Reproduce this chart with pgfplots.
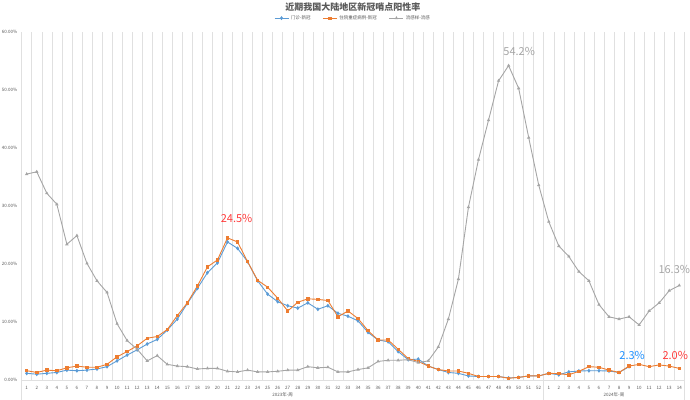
\documentclass[border=0pt]{standalone}
\usepackage{pgfplots}
\pgfplotsset{compat=1.18}
\usepackage{pgfplotstable}
\usepackage{fontspec}
\setmainfont{Noto Sans CJK SC}
\definecolor{cblue}{HTML}{5B9BD5}
\definecolor{corange}{HTML}{ED7D31}
\definecolor{cgray}{HTML}{A5A5A5}
\definecolor{ctext}{HTML}{595959}
\definecolor{cgrid}{HTML}{E0E0E0}
\definecolor{cred}{HTML}{FF3B3B}
\definecolor{cbluelab}{HTML}{1E90FF}

\pgfplotstableread{
x v
0 1.15
1 1.0
2 1.15
3 1.3
4 1.7
5 1.6
6 1.7
7 1.9
8 2.3
9 3.3
10 4.3
11 5.2
12 6.2
13 7.0
14 8.6
15 10.5
16 13.2
17 15.8
18 18.5
19 20.2
20 23.8
21 22.7
22 20.4
23 17.1
24 14.8
25 13.5
26 12.8
27 12.4
28 13.3
29 12.2
30 12.8
31 11.5
32 11.0
33 10.2
34 8.2
35 6.9
36 6.6
37 4.9
38 3.5
39 3.6
40 2.4
41 1.8
42 1.3
43 1.15
44 0.7
45 0.6
46 0.6
47 0.6
48 0.35
49 0.45
50 0.7
51 0.7
52 1.15
53 0.9
54 1.4
55 1.55
56 1.6
57 1.6
58 1.55
59 1.3
60 2.3
}\bluedata

\pgfplotstableread{
x v
0 1.6
1 1.3
2 1.7
3 1.6
4 2.1
5 2.4
6 2.2
7 2.2
8 2.7
9 4.0
10 4.9
11 5.9
12 7.2
13 7.5
14 8.7
15 11.1
16 13.3
17 16.2
18 19.5
19 20.7
20 24.5
21 23.8
22 20.4
23 17.2
24 16.0
25 14.1
26 11.9
27 13.4
28 14.0
29 13.9
30 13.7
31 10.9
32 11.9
33 10.6
34 8.5
35 6.9
36 6.9
37 5.3
38 3.7
39 3.2
40 2.4
41 1.8
42 1.55
43 1.55
44 1.15
45 0.6
46 0.6
47 0.6
48 0.3
49 0.45
50 0.7
51 0.7
52 1.15
53 1.1
54 0.9
55 1.5
56 2.3
57 2.2
58 1.7
59 1.3
60 2.4
61 2.7
62 2.3
63 2.6
64 2.4
65 2.0
}\orangedata

\pgfplotstableread{
x v
0 35.5
1 35.9
2 32.2
3 30.3
4 23.4
5 24.9
6 20.1
7 17.1
8 15.1
9 9.7
10 6.8
11 5.3
12 3.3
13 4.2
14 2.7
15 2.4
16 2.3
17 1.9
18 2.0
19 2.0
20 1.5
21 1.4
22 1.7
23 1.4
24 1.4
25 1.5
26 1.7
27 1.7
28 2.3
29 2.1
30 2.2
31 1.4
32 1.4
33 1.8
34 2.1
35 3.2
36 3.4
37 3.4
38 3.5
39 3.0
40 3.3
41 5.7
42 10.5
43 17.4
44 29.8
45 38.0
46 44.8
47 51.6
48 54.2
49 50.3
50 41.8
51 33.6
52 27.3
53 23.1
54 21.3
55 18.7
56 17.1
57 13.0
58 10.9
59 10.5
60 10.9
61 9.5
62 11.9
63 13.3
64 15.4
65 16.3
}\graydata

\begin{document}
\begin{tikzpicture}
\useasboundingbox (-21.7bp,-20bp) rectangle (668.3bp,380bp);
\begin{axis}[
  at={(0,0)}, anchor=south west,
  scale only axis, width=662.6bp, height=348bp,
  xmin=-0.5, xmax=65.5, ymin=0, ymax=60,
  clip=false,
  axis x line*=bottom, axis y line*=left,
  x axis line style={draw=cgrid,-},
  y axis line style={draw=none},
  xtick={0,...,65},
  xticklabels={1,2,3,4,5,6,7,8,9,10,11,12,13,14,15,16,17,18,19,20,21,22,23,24,25,26,27,28,29,30,31,32,33,34,35,36,37,38,39,40,41,42,43,44,45,46,47,48,49,50,51,52,1,2,3,4,5,6,7,8,9,10,11,12,13,14},
  minor xtick={-0.5,0.5,...,65.5},
  xminorgrids,
  minor grid style={cgrid, line width=0.5bp},
  major tick length=0pt, minor tick length=0pt,
  ytick={0,10,...,60},
  yticklabels={0.00\%,10.00\%,20.00\%,30.00\%,40.00\%,50.00\%,60.00\%},
  tick label style={font=\fontsize{4.5bp}{5bp}\selectfont, text=ctext},
  /pgf/number format/assume math mode=true,
  xticklabel style={yshift=-3bp},
  yticklabel style={xshift=-1bp},
  legend style={at={(0.5,1)}, anchor=south, yshift=7bp, draw=none, fill=none,
    font=\fontsize{4.5bp}{5bp}\selectfont, text=ctext,
    legend columns=3, /tikz/every even column/.append style={column sep=10bp}},
  legend image code/.code={\draw[#1] (0bp,0bp) -- (14bp,0bp); \draw[#1] plot coordinates {(7bp,0bp)};},
]
\addplot[cblue, line width=0.9bp, mark=diamond*, mark size=1.3bp] table[x=x,y=v] {\bluedata};
\addlegendentry{门诊-新冠}
\addplot[corange, line width=0.9bp, mark=square*, mark size=1.2bp] table[x=x,y=v] {\orangedata};
\addlegendentry{住院重症病例-新冠}
\addplot[cgray, line width=0.9bp, mark=triangle*, mark size=1.1bp] table[x=x,y=v] {\graydata};
\addlegendentry{流感样-流感}

\node[text=ctext, font=\fontsize{9bp}{10bp}\selectfont\bfseries, inner sep=0pt] at (rel axis cs:0.5,1) [yshift=25bp] {近期我国大陆地区新冠哨点阳性率};

\node[text=cred, font=\fontsize{11bp}{12bp}\selectfont] at (axis cs:20.9,27.9) {24.5\%};
\node[text=cgray, font=\fontsize{11bp}{12bp}\selectfont] at (axis cs:49.05,56.6) {54.2\%};
\node[text=cgray, font=\fontsize{11bp}{12bp}\selectfont] at (axis cs:64.5,19.1) {16.3\%};
\node[text=cbluelab, font=\fontsize{11bp}{12bp}\selectfont] at (axis cs:60.3,4.3) {2.3\%};
\node[text=cred, font=\fontsize{11bp}{12bp}\selectfont] at (axis cs:64.6,4.3) {2.0\%};

\draw[cgrid, line width=0.5bp] (axis cs:-0.5,0) -- ++(0bp,-20bp);
\draw[cgrid, line width=0.5bp] (axis cs:51.5,0) -- ++(0bp,-20bp);
\draw[cgrid, line width=0.5bp] (axis cs:65.5,0) -- ++(0bp,-20bp);
\node[text=ctext, font=\fontsize{4.5bp}{5bp}\selectfont] at (axis cs:25.5,0) [yshift=-15bp] {2023年-周};
\node[text=ctext, font=\fontsize{4.5bp}{5bp}\selectfont] at (axis cs:58.5,0) [yshift=-15bp] {2024年-周};
\end{axis}
\end{tikzpicture}
\end{document}
